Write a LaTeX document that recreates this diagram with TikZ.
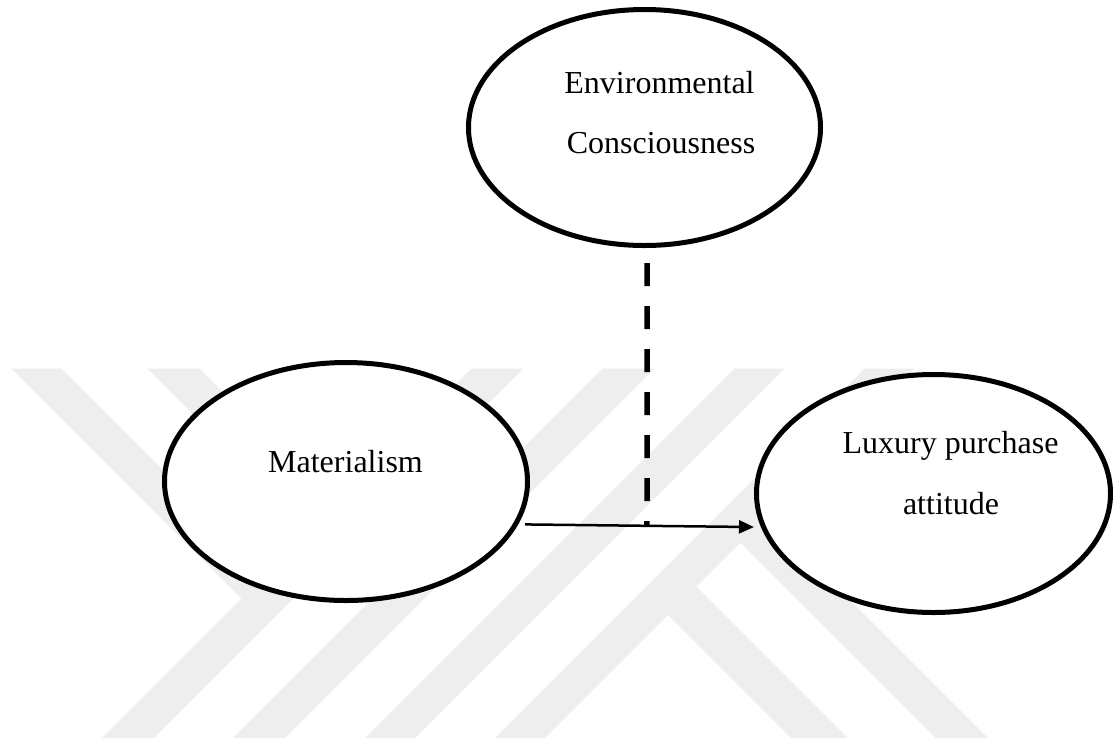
\documentclass[tikz,border=0pt]{standalone}
\usepackage{fontspec}
\setmainfont{Liberation Serif}
\usetikzlibrary{shapes.geometric,arrows.meta,calc}
\definecolor{wmgray}{RGB}{238,238,238}
\tikzset{
  construct/.style={ellipse, draw=black, fill=white, line width=5pt, inner sep=0pt},
  txt/.style={anchor=base, inner sep=0pt, font=\fontsize{32}{38}\selectfont},
  effect/.style={line width=2.5pt, -{Triangle[length=15pt,width=13pt]}},
  moderator/.style={line width=5.5pt, dash pattern=on 23pt off 20pt},
  wm/.style={fill=wmgray, draw=none}
}
\begin{document}
\begin{tikzpicture}[x=1pt,y=-1pt]
\useasboundingbox (0,0) rectangle (1113,740);

% background emblem: diagonal bands
\fill[wm] (471.5,368.5) -- (523.5,368.5) -- (154,738) -- (102,738) -- cycle;
\fill[wm] (602.5,368.5) -- (654.5,368.5) -- (285,738) -- (233,738) -- cycle;
\fill[wm] (734.5,368.5) -- (784.5,368.5) -- (415,738) -- (365,738) -- cycle;
\fill[wm] (864.5,368.5) -- (914.5,368.5) -- (545,738) -- (495,738) -- cycle;
\fill[wm] (11.5,368.5) -- (61.5,368.5) -- (291.5,598.5) -- (266.5,623.5) -- cycle;
\fill[wm] (147.5,368.5) -- (199.5,368.5) -- (426,595) -- (400,621) -- cycle;
\fill[wm] (643,590) -- (671.5,561.5) -- (848,738) -- (791,738) -- cycle;
\fill[wm] (715.5,517.5) -- (741.5,491.5) -- (988,738) -- (936,738) -- cycle;

% constructs
\node[construct, minimum width=352pt, minimum height=236pt] (env) at (644.5,127.5) {};
\node[construct, minimum width=363pt, minimum height=238pt] (mat) at (346,481.5) {};
\node[construct, minimum width=354pt, minimum height=238pt] (lux) at (933.5,493.5) {};

\node[txt] (envt1) at (659.5,93) {Environmental};
\node[txt] (envt2) at (661,153) {Consciousness};
\node[txt] (matt) at (345.5,472) {Materialism};
\node[txt] (luxt1) at (950.5,453) {Luxury purchase};
\node[txt] (luxt2) at (951,514) {attitude};

% main effect
\coordinate (arrS) at ([xshift=7pt]mat.-14.5);
\coordinate (arrE) at ([xshift=-7pt]lux.191);
\draw[effect] (arrS) -- (arrE);

% moderating effect, dropped vertically onto the main effect
\coordinate (modtop) at (647,263);
\coordinate (modbot) at (intersection cs: first line={(arrS)--(arrE)}, second line={(modtop)--(647,600)});
\draw[moderator] (modtop) -- (modbot);
\end{tikzpicture}
\end{document}
